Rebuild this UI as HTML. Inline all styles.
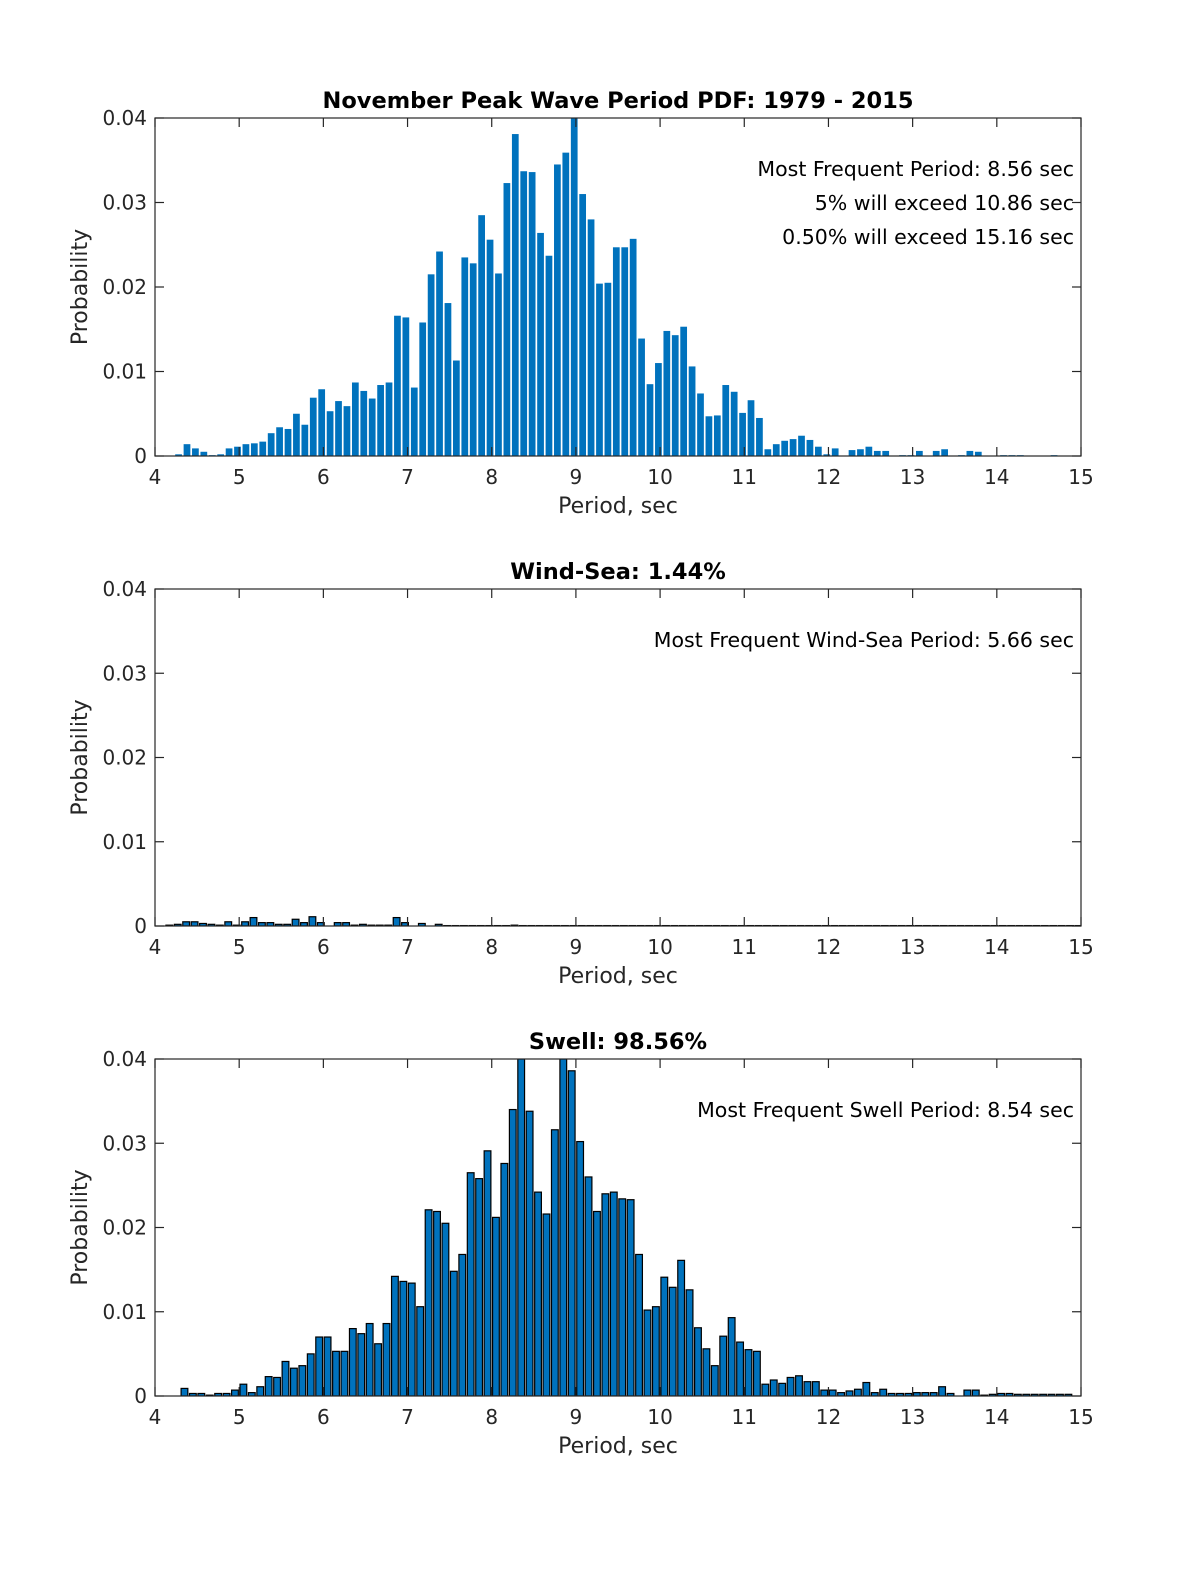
<!DOCTYPE html>
<html><head><meta charset="utf-8"><style>
body{margin:0;background:#fff}
svg text{font-family:"DejaVu Sans","Liberation Sans",sans-serif;fill:#262626}
</style></head><body>
<svg id="fig" width="1200" height="1575" xmlns="http://www.w3.org/2000/svg">
<rect width="1200" height="1575" fill="#fff"/>
</svg>
<script>
// ---- data ----
const allStart = 4.28;
const allValues = [0.0002,0.0014,0.0009,0.0005,0.0001,0.0002,0.0009,0.0011,0.0014,0.0015,0.0017,0.0027,0.0034,0.0032,0.0050,0.0037,0.0069,0.0079,0.0053,0.0065,0.0059,0.0087,0.0077,0.0068,0.0084,0.0087,0.0166,0.0164,0.0081,0.0158,0.0215,0.0242,0.0181,0.0113,0.0235,0.0228,0.0285,0.0256,0.0216,0.0323,0.0381,0.0337,0.0336,0.0264,0.0237,0.0345,0.0359,0.0400,0.0310,0.0280,0.0204,0.0205,0.0247,0.0247,0.0257,0.0139,0.0085,0.0110,0.0148,0.0143,0.0153,0.0106,0.0074,0.0047,0.0048,0.0084,0.0076,0.0051,0.0066,0.0045,0.0008,0.0014,0.0018,0.0020,0.0024,0.0019,0.0011,0.0002,0.0009,0,0.0007,0.0008,0.0011,0.0006,0.0006,0,0.0001,0.0001,0.0006,0,0.0006,0.0008,0,0.0001,0.0006,0.0005,0,0,0.0001,0.0001,0.0001,0,0,0,0.0001];
const windStart = 4.17;
const windValues = [0.0001,0.0002,0.0005,0.0005,0.0003,0.0002,0.0001,0.0005,0.0001,0.0005,0.0010,0.0004,0.0004,0.0002,0.0002,0.0008,0.0004,0.0011,0.0004,0,0.0004,0.0004,0.0001,0.0002,0.0001,0.0001,0.0001,0.0010,0.0004,0,0.0003,0,0.0002,
0.00005,0.00005,0.00005,0.00005,0.00005,0.00005,0.00005,0.00005,0.0001,0.00005,0.00005,0.00005,0.00005,0.00005,0.00005,0.00005,0.00005,0.00005,0.00005,0.00005,0.00005,0.00005,0.00005,0.00005,0.00005,0.00005,0.00005,0.00005,0.00005,0.00005,0.00005,0.00005,0.00005,0.00005,0.00005,0.00005,0.00005,0.00005,0.00005,0.00005,0.00005,0.00005,0.00005,0.00005,0.00005,0.00005,0.00005,0.00005,0.00005,0.00005,0.00005,0.00005,0.00005,0.00005,0.00005,0.00005,0.00005,0.00005,0.00005,0.00005,0.00005,0.00005,0.00005,0.00005,0.00005,0.00005,0.00005,0.00005,0.00005,0.00005,0.00005,0.00005,0.00005,0.00005,0.00005,0.00005];
const swellStart = 4.35;
const swellValues = [0.0009,0.0003,0.0003,0.0001,0.0003,0.0003,0.0007,0.0014,0.0004,0.0011,0.0023,0.0022,0.0041,0.0033,0.0036,0.0050,0.0070,0.0070,0.0053,0.0053,0.0080,0.0074,0.0086,0.0062,0.0086,0.0142,0.0136,0.0134,0.0106,0.0221,0.0219,0.0205,0.0148,0.0168,0.0265,0.0258,0.0291,0.0212,0.0276,0.0340,0.0400,0.0338,0.0242,0.0216,0.0316,0.0400,0.0386,0.0302,0.0260,0.0219,0.0240,0.0242,0.0234,0.0233,0.0168,0.0102,0.0106,0.0141,0.0129,0.0161,0.0126,0.0081,0.0056,0.0036,0.0071,0.0093,0.0064,0.0055,0.0053,0.0014,0.0019,0.0015,0.0022,0.0024,0.0017,0.0017,0.0007,0.0007,0.0004,0.0006,0.0008,0.0016,0.0004,0.0008,0.0003,0.0003,0.0003,0.0004,0.0004,0.0004,0.0011,0.0003,0,0.0007,0.0007,0.0001,0.0002,0.0003,0.0003,0.0002,0.0002,0.0002,0.0002,0.0002,0.0002,0.0002];
const xTicks = [4,5,6,7,8,9,10,11,12,13,14,15];
const yTicks = [0,0.01,0.02,0.03,0.04];
const yTickLabels = ["0","0.01","0.02","0.03","0.04"];
const binWidth = 0.1;

const NS = "http://www.w3.org/2000/svg";
const fig = document.getElementById('fig');
function mk(tag, attrs, parent){const e=document.createElementNS(NS,tag);for(const k in attrs)e.setAttribute(k,attrs[k]);(parent||fig).appendChild(e);return e;}

const L=155,R=1081;
function xS(v){return L+(v-4)/(15-4)*(R-L);}

function drawPanel(cfg){
  const g = mk('g',{});
  
  
  const T=cfg.top,B=cfg.bottom;
  const yS=v=>B-(v/0.04)*(B-T);
  const clip = mk('clipPath',{id:'c'+cfg.name},g);
  mk('rect',{x:L,y:T,width:R-L,height:B-T},clip);
  const bars = mk('g',{'clip-path':'url(#c'+cfg.name+')'},g);
  
  
  cfg.values.forEach((v,i)=>{
    if(v<=0) return;
    const c=cfg.start+i*binWidth;
    const x0=xS(c-cfg.bw/2), x1=xS(c+cfg.bw/2);
    const r=mk('rect',{x:x0,y:yS(v),width:x1-x0,height:B-yS(v),fill:'#0072BD'},bars);
    if(cfg.edge){r.setAttribute('stroke','#000');r.setAttribute('stroke-width','1.2');}
    
    
  });
  const ax = mk('rect',{x:L,y:T,width:R-L,height:B-T,fill:'none',stroke:'#262626','stroke-width':1.2},g);
  
  
  xTicks.forEach(t=>{
    const x=xS(t);
    mk('line',{x1:x,x2:x,y1:B,y2:B-9,stroke:'#262626','stroke-width':1.2},g);
    mk('line',{x1:x,x2:x,y1:T,y2:T+9,stroke:'#262626','stroke-width':1.2},g);
    const tx=mk('text',{x:x,y:B+28,'text-anchor':'middle','font-size':20},g);
    tx.textContent=t;
    
    
  });
  yTicks.forEach((t,i)=>{
    const y=yS(t);
    mk('line',{x1:L,x2:L+9,y1:y,y2:y,stroke:'#262626','stroke-width':1.2},g);
    mk('line',{x1:R,x2:R-9,y1:y,y2:y,stroke:'#262626','stroke-width':1.2},g);
    const tx=mk('text',{x:L-8,y:y+7,'text-anchor':'end','font-size':20},g);
    tx.textContent=yTickLabels[i];
    
    
  });
  const xl=mk('text',{x:(L+R)/2,y:B+57,'text-anchor':'middle','font-size':22},g);
  xl.textContent='Period, sec';
  
  
  const yc=(T+B)/2;
  const yl=mk('text',{x:87,y:yc,'text-anchor':'middle','font-size':22,transform:'rotate(-90 87 '+yc+')'},g);
  yl.textContent='Probability';
  
  
  const ti=mk('text',{x:(L+R)/2,y:T-10,'text-anchor':'middle','font-size':22.5,'font-weight':'bold'},g);
  ti.style.fill='#000';
  ti.textContent=cfg.title;
  
  
  cfg.notes.forEach((n,i)=>{
    const t=mk('text',{x:1074,y:T+58+i*34,'text-anchor':'end','font-size':20.5},g);
    t.style.fill='#000';
    t.textContent=n;
    
    
  });
}
drawPanel({name:'all-panel',top:118,bottom:456,values:allValues,start:allStart,bw:0.08,edge:false,
  title:'November Peak Wave Period PDF: 1979 - 2015',
  notes:['Most Frequent Period: 8.56 sec','5% will exceed 10.86 sec','0.50% will exceed 15.16 sec']});
drawPanel({name:'windsea-panel',top:589,bottom:926,values:windValues,start:windStart,bw:0.08,edge:true,
  title:'Wind-Sea: 1.44%',notes:['Most Frequent Wind-Sea Period: 5.66 sec']});
drawPanel({name:'swell-panel',top:1059,bottom:1396,values:swellValues,start:swellStart,bw:0.08,edge:true,
  title:'Swell: 98.56%',notes:['Most Frequent Swell Period: 8.54 sec']});
</script>
</body></html>
